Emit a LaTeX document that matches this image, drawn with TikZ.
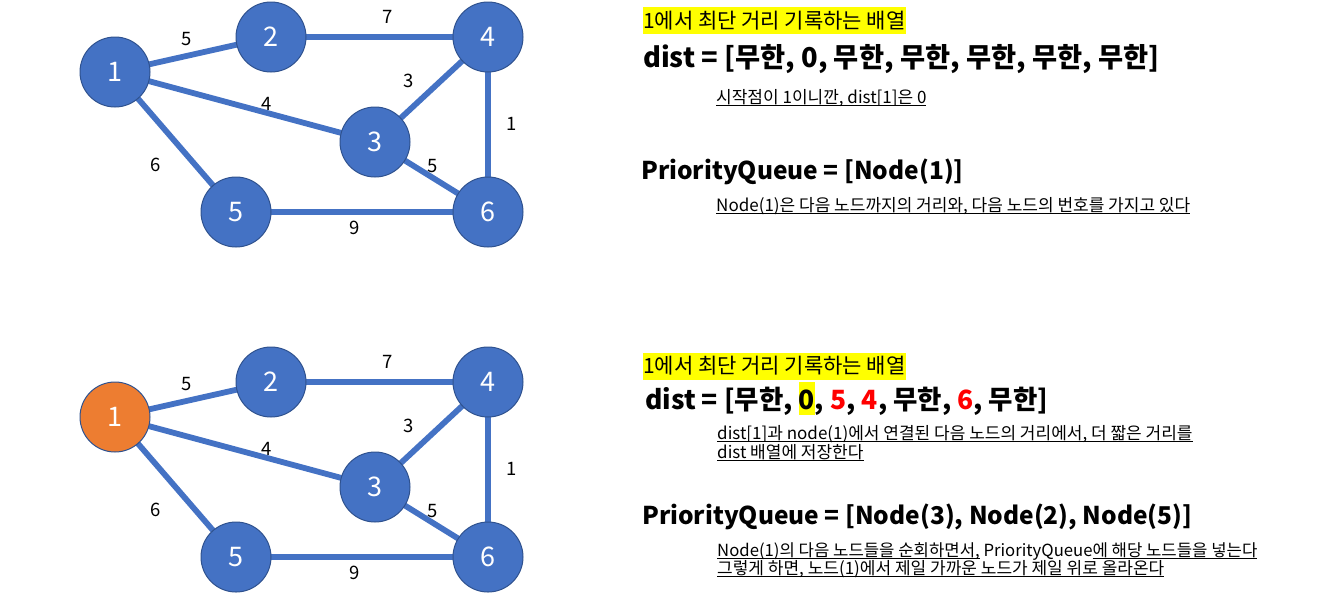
\documentclass[tikz,border=0pt]{standalone}
\usepackage{fontspec}
\setmainfont{Noto Sans CJK KR}
\usetikzlibrary{backgrounds}
\definecolor{nblue}{HTML}{4472C4}
\definecolor{nborder}{HTML}{2F528F}
\definecolor{norange}{HTML}{ED7D31}
\definecolor{hlyellow}{HTML}{FFFF00}
\definecolor{myred}{HTML}{FF0000}
\newcommand\ulx[1]{\setbox0\hbox{#1}\rlap{\rule[-2.2pt]{\wd0}{0.9pt}}\box0\relax}
\newcommand\hlzero{{\setlength{\fboxsep}{0pt}\colorbox{hlyellow}{\rule[-5pt]{0pt}{33pt}0}}}
\tikzset{
  vert/.style={circle, fill=nblue, draw=nborder, line width=1pt, minimum size=70pt, inner sep=0pt,
    text=white, font=\fontsize{27}{30}\selectfont},
  vorange/.style={vert, fill=norange},
  edge/.style={draw=nblue, line width=5.8pt},
  elab/.style={font=\fontsize{18.5}{20}\selectfont, text=black, inner sep=0pt},
  txt/.style={anchor=base west, inner sep=0pt},
  hltxt/.style={txt, fill=hlyellow, text height=21.3pt, text depth=5.7pt, font=\fontsize{21}{25}\selectfont},
  bigtxt/.style={txt, font=\fontsize{#1}{32}\selectfont\bfseries},
  smalltxt/.style={txt, font=\fontsize{17}{20}\selectfont},
}
\begin{document}
\begin{tikzpicture}[x=1pt,y=-1pt]
\useasboundingbox (0,0) rectangle (1321,595);
% ---------- top graph ----------
\node[vert] (a1) at (115,72) {1};
\node[vert] (a2) at (271,37) {2};
\node[vert] (a4) at (488,37) {4};
\node[vert] (a3) at (375,142) {3};
\node[vert] (a5) at (236,212) {5};
\node[vert] (a6) at (488,212) {6};
\begin{scope}[on background layer]
\draw[edge] (a1.center) -- (a2.center);
\draw[edge] (a2.center) -- (a4.center);
\draw[edge] (a1.center) -- (a3.center);
\draw[edge] (a3.center) -- (a4.center);
\draw[edge] (a4.center) -- (a6.center);
\draw[edge] (a3.center) -- (a6.center);
\draw[edge] (a1.center) -- (a5.center);
\draw[edge] (a5.center) -- (a6.center);
\end{scope}
\node[elab] (la12) at (187,39) {5};
\node[elab] (la24) at (388,17) {7};
\node[elab] (la34) at (409,81) {3};
\node[elab] (la13) at (267,104) {4};
\node[elab] (la46) at (512,124) {1};
\node[elab] (la15) at (156,165) {6};
\node[elab] (la36) at (433,166) {5};
\node[elab] (la56) at (355,228) {9};
% ---------- bottom graph ----------
\node[vorange] (b1) at (115,417) {1};
\node[vert] (b2) at (271,382) {2};
\node[vert] (b4) at (488,382) {4};
\node[vert] (b3) at (375,487) {3};
\node[vert] (b5) at (236,557) {5};
\node[vert] (b6) at (488,557) {6};
\begin{scope}[on background layer]
\draw[edge] (b1.center) -- (b2.center);
\draw[edge] (b2.center) -- (b4.center);
\draw[edge] (b1.center) -- (b3.center);
\draw[edge] (b3.center) -- (b4.center);
\draw[edge] (b4.center) -- (b6.center);
\draw[edge] (b3.center) -- (b6.center);
\draw[edge] (b1.center) -- (b5.center);
\draw[edge] (b5.center) -- (b6.center);
\end{scope}
\node[elab] (lb12) at (187,384) {5};
\node[elab] (lb24) at (388,362) {7};
\node[elab] (lb34) at (409,426) {3};
\node[elab] (lb13) at (267,449) {4};
\node[elab] (lb46) at (512,469) {1};
\node[elab] (lb15) at (156,510) {6};
\node[elab] (lb36) at (433,511) {5};
\node[elab] (lb56) at (355,573) {9};
% ---------- top texts ----------
\node[hltxt] (t1) at (643,28.3) {1에서 최단 거리 기록하는 배열};
\node[bigtxt=27.3] (t2) at (643,67.1) {dist = [무한, 0, 무한, 무한, 무한, 무한, 무한]};
\node[smalltxt] (t3) at (716,103.3) {\ulx{시작점이 1이니깐, dist[1]은 0}};
\node[bigtxt=24.5] (t4) at (641,179) {PriorityQueue = [Node(1)]};
\node[smalltxt] (t5) at (716,211.3) {\ulx{Node(1)은 다음 노드까지의 거리와, 다음 노드의 번호를 가지고 있다}};
% ---------- bottom texts ----------
\node[hltxt] (u1) at (643,373.8) {1에서 최단 거리 기록하는 배열};
\node[bigtxt=26.5] (u2) at (645,409.8) {dist = [무한, \hlzero, \textcolor{myred}{5}, \textcolor{myred}{4}, 무한, \textcolor{myred}{6}, 무한]};
\node[smalltxt] (u3) at (717,439.3) {\ulx{dist[1]과 node(1)에서 연결된 다음 노드의 거리에서, 더 짧은 거리를}};
\node[smalltxt] (u4) at (717,458.3) {\ulx{dist 배열에 저장한다}};
\node[bigtxt=24.5] (u5) at (642,524) {PriorityQueue = [Node(3), Node(2), Node(5)]};
\node[smalltxt] (u6) at (717,556.3) {\fontsize{16.7}{20}\selectfont\ulx{Node(1)의 다음 노드들을 순회하면서,} PriorityQueue\ulx{에 해당 노드들을 넣는다}};
\node[smalltxt] (u7) at (717,574.3) {\ulx{그렇게 하면, 노드(1)에서 제일 가까운 노드가 제일 위로 올라온다}};
\end{tikzpicture}
\end{document}
